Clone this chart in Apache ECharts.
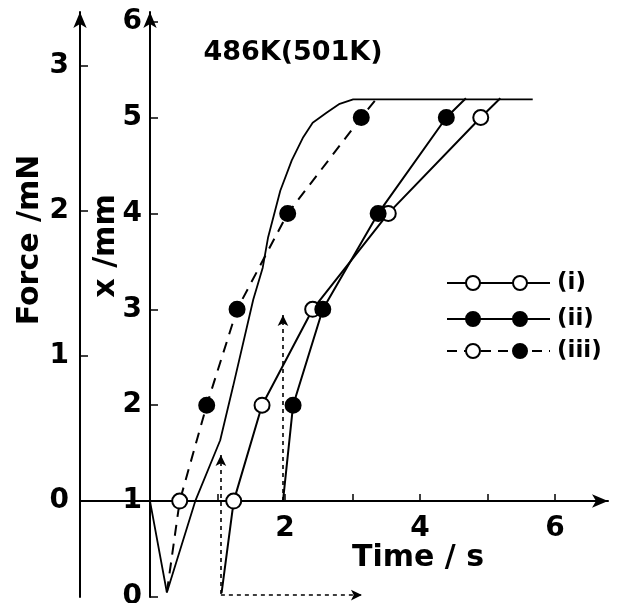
<!DOCTYPE html>
<html>
<head>
<meta charset="utf-8">
<script src="https://cdn.jsdelivr.net/npm/echarts@6/dist/echarts.min.js"></script>
<style>
  html, body { margin: 0; background: #fff; }
  #chart { width: 618px; height: 603px; }
</style>
</head>
<body>
<div id="chart"></div>
<script>
// ticks
const timeTicks = [1, 2, 3, 4, 5, 6];
const timeLabels = [2, 4, 6];
const xTicks = [0, 1, 2, 3, 4, 5, 6];
const forceTicks = [0, 1, 2, 3];

// force trace (time s, force mN) - solid line, no markers
const forceCurve = [
  [0, 0], [0.25, -0.63], [0.67, 0], [1.04, 0.42], [1.23, 0.79], [1.53, 1.39],
  [1.67, 1.61], [1.75, 1.82], [1.93, 2.14], [2.10, 2.35], [2.27, 2.51],
  [2.41, 2.61], [2.62, 2.68], [2.81, 2.74], [3.01, 2.77], [5.67, 2.77]
];

// displacement series (time s, x mm)
const seriesI = [[1.06, 0.04], [1.24, 1], [1.66, 2], [2.41, 3], [3.53, 4], [4.9, 5], [5.19, 5.2]];
const seriesII = [[1.97, 1], [2.12, 2], [2.56, 3], [3.38, 4], [4.39, 5], [4.68, 5.2]];
const seriesIII = [[0.25, 0.05], [0.44, 1], [0.84, 2], [1.29, 3], [2.04, 4], [3.13, 5], [3.36, 5.2]];

// dotted arrows (time s, x mm)
const arrowLines = [
  [[1.05, 0.03], [1.05, 1.48]],
  [[1.05, 0.02], [3.14, 0.02]],
  [[1.97, 1.0], [1.97, 2.94]]
];

const legendNames = ['(i)', '(ii)', '(iii)'];

const FONT = 'DejaVu Sans';
const pxPerSec = 67.5;
const tMax = 458 / pxPerSec;
const xMax = 6.1;
const fMin = -0.661, fMax = 3.373;

const chart = echarts.init(document.getElementById('chart'));

// end points carry no marker
function marked(data, openIdx) {
  return data.map((p, i) => {
    if (i === 0 || i === data.length - 1) return { value: p, symbol: 'none' };
    if (openIdx && openIdx.includes(i)) {
      return { value: p, itemStyle: { color: '#fff', borderColor: '#000', borderWidth: 2 } };
    }
    return { value: p };
  });
}

const labelStyle = { color: '#000', fontFamily: FONT, fontWeight: 'bold', fontSize: 28 };
const axisLineStyle = { color: '#000', width: 2 };
const tickStyle = { color: '#000', width: 1.5 };

const legendGraphics = [];
const legendY = [283, 319, 351];
legendY.forEach((y, k) => {
  legendGraphics.push({
    type: 'line', shape: { x1: 447, y1: y, x2: 550, y2: y },
    style: { stroke: '#000', lineWidth: 2, lineDash: k === 2 ? [10, 7] : null }
  });
  [473, 520].forEach((cx, j) => {
    const open = k === 0 || (k === 2 && j === 0);
    legendGraphics.push({
      type: 'circle', shape: { cx: cx, cy: y, r: 7 },
      style: { fill: open ? '#fff' : '#000', stroke: '#000', lineWidth: 2 }
    });
  });
  legendGraphics.push({
    type: 'text', x: 557, y: y,
    style: { text: legendNames[k], font: 'bold 23px ' + FONT, fill: '#000', textVerticalAlign: 'middle' }
  });
});

const option = {
  animation: false,
  backgroundColor: '#fff',
  grid: [
    // data area, x/mm axis at time 0
    { left: 150, right: 10, top: 12, bottom: 6, outerBoundsMode: 'none' },
    // time axis, sits at x = 1 mm / force = 0
    { left: 80, right: 10, top: 12, bottom: 102, outerBoundsMode: 'none' },
    // force axis
    { left: 80, right: 10, top: 12, bottom: 6, outerBoundsMode: 'none' }
  ],
  xAxis: [
    { gridIndex: 0, type: 'value', min: 0, max: tMax, show: false },
    {
      gridIndex: 1, type: 'value', min: -70 / pxPerSec, max: tMax,
      splitLine: { show: false },
      axisLine: { onZero: false, symbol: ['none', 'arrow'], symbolSize: [10, 16], lineStyle: axisLineStyle },
      axisTick: { inside: true, length: 7, customValues: timeTicks, lineStyle: tickStyle },
      axisLabel: Object.assign({ customValues: timeLabels, margin: 14 }, labelStyle)
    },
    { gridIndex: 2, type: 'value', min: 0, max: 1, show: false }
  ],
  yAxis: [
    {
      gridIndex: 0, type: 'value', min: 0, max: xMax,
      splitLine: { show: false },
      axisLine: { onZero: false, symbol: ['none', 'arrow'], symbolSize: [10, 16], lineStyle: axisLineStyle },
      axisTick: { inside: true, length: 8, customValues: xTicks, lineStyle: tickStyle },
      axisLabel: Object.assign({ customValues: xTicks, margin: 8 }, labelStyle)
    },
    { gridIndex: 0, type: 'value', min: fMin, max: fMax, show: false },
    { gridIndex: 1, type: 'value', min: 0, max: 1, show: false },
    {
      gridIndex: 2, type: 'value', min: fMin, max: fMax,
      splitLine: { show: false },
      axisLine: { onZero: false, symbol: ['none', 'arrow'], symbolSize: [10, 16], lineStyle: axisLineStyle },
      axisTick: { inside: true, length: 8, customValues: forceTicks, lineStyle: tickStyle },
      axisLabel: Object.assign({ customValues: forceTicks, margin: 11 }, labelStyle)
    }
  ],
  graphic: [
    {
      type: 'text', x: 293, y: 53,
      style: { text: '486K(501K)', font: 'bold 27px ' + FONT, fill: '#000', textAlign: 'center', textVerticalAlign: 'middle' }
    },
    {
      type: 'text', x: 418, y: 558,
      style: { text: 'Time / s', font: 'bold 30px ' + FONT, fill: '#000', textAlign: 'center', textVerticalAlign: 'middle' }
    },
    {
      type: 'text', x: 30, y: 240, rotation: Math.PI / 2,
      style: { text: 'Force /mN', font: 'bold 30px ' + FONT, fill: '#000', textAlign: 'center', textVerticalAlign: 'middle' }
    },
    {
      type: 'text', x: 106, y: 246, rotation: Math.PI / 2,
      style: { text: 'x /mm', font: 'bold 30px ' + FONT, fill: '#000', textAlign: 'center', textVerticalAlign: 'middle' }
    }
  ].concat(legendGraphics),
  series: [
    {
      name: 'force', type: 'line', xAxisIndex: 0, yAxisIndex: 1,
      data: forceCurve, showSymbol: false, symbol: 'none',
      lineStyle: { color: '#000', width: 1.8 }, z: 2
    },
    {
      name: '(i)', type: 'line', xAxisIndex: 0, yAxisIndex: 0,
      data: marked(seriesI), symbol: 'circle', symbolSize: 15,
      itemStyle: { color: '#fff', borderColor: '#000', borderWidth: 2 },
      lineStyle: { color: '#000', width: 2 }, z: 3,
      markLine: {
        silent: true, symbol: ['none', 'arrow'], symbolSize: [8, 11],
        label: { show: false },
        lineStyle: { color: '#000', width: 1.6, type: [4, 4] },
        data: arrowLines.map(l => [{ coord: l[0] }, { coord: l[1] }])
      }
    },
    {
      name: '(ii)', type: 'line', xAxisIndex: 0, yAxisIndex: 0,
      data: marked(seriesII), symbol: 'circle', symbolSize: 15,
      itemStyle: { color: '#000', borderColor: '#000', borderWidth: 2 },
      lineStyle: { color: '#000', width: 2 }, z: 3
    },
    {
      name: '(iii)', type: 'line', xAxisIndex: 0, yAxisIndex: 0,
      data: marked(seriesIII, [1]), symbol: 'circle', symbolSize: 15,
      itemStyle: { color: '#000', borderColor: '#000', borderWidth: 2 },
      lineStyle: { color: '#000', width: 2, type: [11, 8] }, z: 3
    }
  ]
};

chart.setOption(option);
</script>
</body>
</html>
